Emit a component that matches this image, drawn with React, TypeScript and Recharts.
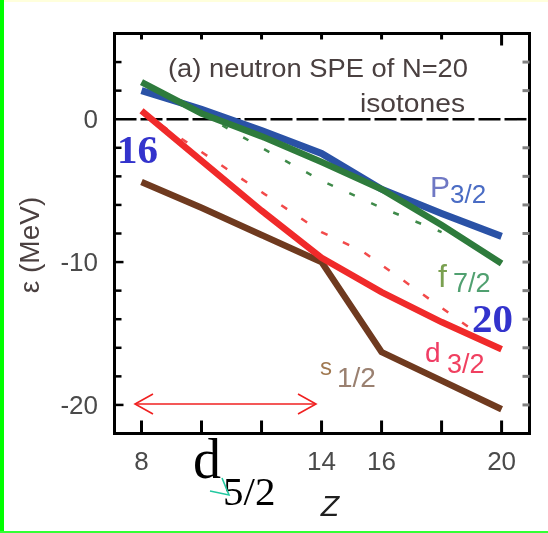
import React from 'react';
import { LineChart, Line, XAxis, YAxis, ReferenceLine } from 'recharts';

// Z of the N=20 isotones
const zValues = [8, 10, 12, 14, 16, 18, 20];
// single-particle energies (MeV)
const p32 = [2.0, 0.7, -0.8, -2.4, -4.9, -6.6, -8.2];
const f72 = [2.6, 0.4, -1.2, -3.0, -4.9, -7.4, -10.1];
const d32 = [0.6, -2.9, -6.4, -9.7, -12.1, -14.2, -16.1];
const s12 = [-4.4, -6.2, -8.1, -10.0, -16.3, -18.3, -20.3];
// dotted f7/2 and dashed d3/2 curves
const f72DottedZ = [10, 12, 14, 16, 18];
const f72Dotted = [0.4, -2.0, -4.3, -6.2, -7.9];
const d32DashedZ = [8, 10, 12, 14, 15.4, 18, 19];
const d32Dashed = [0.5, -2.3, -5.1, -7.9, -9.3, -13.2, -14.7];

const xTicks = [8, 10, 12, 14, 16, 18, 20];
const xLabels = [8, 14, 16, 20];
const yTicks = [-20, -18, -16, -14, -12, -10, -8, -6, -4, -2, 0, 2, 4];
const yLabels = [0, -10, -20];
const rightTicks = [-20, -18, -16, -14, -12, -10, -8, -6, -4, -2, 2, 4];

const mainData = zValues.map((z, i) => ({ z, p: p32[i], f: f72[i], d: d32[i], s: s12[i] }));
const dottedData = f72DottedZ.map((z, i) => ({ z, v: f72Dotted[i] }));
const dashedData = d32DashedZ.map((z, i) => ({ z, v: d32Dashed[i] }));

const SANS = '"Liberation Sans", Arial, sans-serif';
const SERIF = '"Liberation Serif", "Times New Roman", serif';

const BottomTick = (props: any) => {
  const { x, y, payload } = props;
  const v = payload.value;
  return (
    <g>
      <line x1={x} y1={y} x2={x} y2={y - 13} stroke="#000" strokeWidth={3} />
      {xLabels.includes(v) && (
        <text x={x} y={y + 36.5} textAnchor="middle" fontFamily={SANS} fontSize={26} fill="#4a4a4a">
          {v}
        </text>
      )}
    </g>
  );
};

const TopTick = (props: any) => {
  const { x, y, payload } = props;
  const len = payload.value === 20 ? 12 : 6;
  return <line x1={x} y1={y} x2={x} y2={y + len} stroke="#000" strokeWidth={3} />;
};

const LeftTick = (props: any) => {
  const { x, y, payload } = props;
  const v = payload.value;
  const len = v === -10 || v === -20 ? 9 : 7;
  return (
    <g>
      {v !== 0 && <line x1={x} y1={y} x2={x + len} y2={y} stroke="#000" strokeWidth={2.5} />}
      {yLabels.includes(v) && (
        <text x={x - 16.5} y={y + 9} textAnchor="end" fontFamily={SANS} fontSize={26} fill="#4a4a4a">
          {v}
        </text>
      )}
    </g>
  );
};

const RightTick = (props: any) => {
  const { x, y } = props;
  return <line x1={x - 7} y1={y} x2={x} y2={y} stroke="#808080" strokeWidth={3} />;
};

const axisLineStyle = { stroke: '#000', strokeWidth: 3, strokeLinecap: 'square' as const };

export default function App() {
  return (
    <div style={{ position: 'relative', width: 540, height: 525 }}>
      <div style={{ position: 'fixed', left: 0, top: 0, width: 4, height: 533, background: '#00ff00' }} />
      <div style={{ position: 'fixed', left: 0, top: 531, width: 548, height: 2, background: '#33ff33' }} />
      <div style={{ position: 'fixed', left: 4, top: 0, width: 544, height: 2, background: '#ffffdc' }} />
      <LineChart
        width={540}
        height={525}
        data={mainData}
        margin={{ top: 15.5, right: 8.5, bottom: 39.5, left: 46.5 }}
      >
        <XAxis
          xAxisId="bottom"
          dataKey="z"
          type="number"
          domain={[7.1, 20.93]}
          allowDataOverflow
          ticks={xTicks}
          interval={0}
          tickLine={false}
          tickSize={0}
          tickMargin={0}
          axisLine={axisLineStyle}
          tick={BottomTick}
          height={60}
        />
        <XAxis
          xAxisId="top"
          orientation="top"
          dataKey="z"
          type="number"
          domain={[7.1, 20.93]}
          allowDataOverflow
          ticks={xTicks}
          interval={0}
          tickLine={false}
          tickSize={0}
          tickMargin={0}
          axisLine={axisLineStyle}
          tick={TopTick}
          height={10}
        />
        <YAxis
          yAxisId="left"
          type="number"
          domain={[-22, 6]}
          allowDataOverflow
          ticks={yTicks}
          interval={0}
          tickLine={false}
          tickSize={0}
          tickMargin={0}
          axisLine={axisLineStyle}
          tick={LeftTick}
          width={60}
        />
        <YAxis
          yAxisId="right"
          orientation="right"
          type="number"
          domain={[-22, 6]}
          allowDataOverflow
          ticks={rightTicks}
          interval={0}
          tickLine={false}
          tickSize={0}
          tickMargin={0}
          axisLine={axisLineStyle}
          tick={RightTick}
          width={10}
        />
        <ReferenceLine
          xAxisId="bottom"
          yAxisId="left"
          y={0}
          stroke="#000"
          strokeWidth={2.5}
          strokeDasharray="22 4"
        />
        <Line xAxisId="bottom" yAxisId="left" dataKey="s" stroke="#6f3a1f" strokeWidth={6.5} dot={false} isAnimationActive={false} />
        <Line xAxisId="bottom" yAxisId="left" data={dashedData} dataKey="v" stroke="#f24a4a" strokeWidth={2.5} strokeDasharray="7 17" dot={false} isAnimationActive={false} />
        <Line xAxisId="bottom" yAxisId="left" dataKey="d" stroke="#f02a2a" strokeWidth={6.5} dot={false} isAnimationActive={false} />
        <Line xAxisId="bottom" yAxisId="left" data={dottedData} dataKey="v" stroke="#3f8a4a" strokeWidth={2.5} strokeDasharray="6 18" dot={false} isAnimationActive={false} />
        <Line xAxisId="bottom" yAxisId="left" dataKey="p" stroke="#2a52a6" strokeWidth={7} dot={false} isAnimationActive={false} />
        <Line xAxisId="bottom" yAxisId="left" dataKey="f" stroke="#2e7b3c" strokeWidth={6.5} dot={false} isAnimationActive={false} />
      </LineChart>
      <svg
        width={540}
        height={525}
        style={{ position: 'absolute', left: 0, top: 0, pointerEvents: 'none', overflow: 'visible' }}
      >
        <text x={160} y={69} fontFamily={SANS} fontSize={25} fill="#4a4040" textLength={300} lengthAdjust="spacingAndGlyphs">
          (a) neutron SPE of N=20
        </text>
        <text x={352} y={104} fontFamily={SANS} fontSize={25} fill="#4a4040" textLength={105} lengthAdjust="spacingAndGlyphs">
          isotones
        </text>
        <text x={109} y={155} fontFamily={SERIF} fontWeight="bold" fontSize={41} fill="#3333cc">16</text>
        <text x={464} y={324} fontFamily={SERIF} fontWeight="bold" fontSize={41} fill="#3333cc">20</text>

        <text x={422} y={189} fontFamily={SANS} fontSize={30} fill="#6f78c4">P</text>
        <text x={442} y={195} fontFamily={SANS} fontSize={26} fill="#4a6cc4">3/2</text>

        <text x={430} y={279} fontFamily={SANS} fontSize={32} fill="#7aa050">f</text>
        <text x={445} y={284} fontFamily={SANS} fontSize={27} fill="#50a070">7/2</text>

        <text x={417} y={354} fontFamily={SANS} fontSize={28} fill="#f03c64">d</text>
        <text x={439} y={365} fontFamily={SANS} fontSize={27} fill="#f04060">3/2</text>

        <text x={312} y={367} fontFamily={SANS} fontSize={24} fill="#a07850">s</text>
        <text x={329} y={379} fontFamily={SANS} fontSize={28} fill="#9a8070">1/2</text>

        <text x={185} y={470} fontFamily={SERIF} fontSize={56} fill="#000">d</text>
        <text x={215} y={497} fontFamily={SERIF} fontSize={41} fill="#000">5/2</text>
        <polyline points="202,483 221,487 214,470" fill="none" stroke="#22c8a0" strokeWidth={1.6} />

        <line x1={127} y1={396} x2={308} y2={396} stroke="#f02020" strokeWidth={1.6} />
        <polyline points="145,386 127,396 145,406" fill="none" stroke="#f02020" strokeWidth={1.6} />
        <polyline points="290,386 308,396 290,406" fill="none" stroke="#f02020" strokeWidth={1.6} />

        <text
          x={21}
          y={237}
          transform="rotate(-90 21 237)"
          textAnchor="middle"
          dominantBaseline="central"
          fontFamily={SANS}
          fontSize={28}
          fill="#4a4040"
        >
          ε (MeV)
        </text>
        <text x={322} y={508} textAnchor="middle" fontFamily={SANS} fontStyle="italic" fontSize={30} fill="#202020">
          Z
        </text>
      </svg>
    </div>
  );
}
